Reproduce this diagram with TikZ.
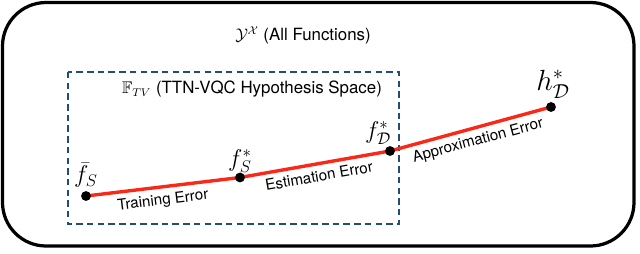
\documentclass[tikz,border=0pt]{standalone}
\usepackage{amssymb}
\usepackage{fontspec}
\setmainfont{TeX Gyre Heros}
\definecolor{boxblue}{RGB}{31,78,121}
\definecolor{linered}{RGB}{250,40,25}
\begin{document}
\begin{tikzpicture}[x=0.025cm,y=-0.025cm,
  outerbox/.style={draw=black,line width=2.3pt,rounded corners=31pt},
  hypobox/.style={draw=boxblue,line width=2.1pt,dash pattern=on 4.6pt off 3pt},
  errline/.style={draw=linered,line width=2.4pt},
  pt/.style={circle,fill=black,inner sep=0pt,minimum size=7pt},
  title/.style={font=\fontsize{12}{14}\selectfont,inner sep=0pt},
  errlab/.style={font=\fontsize{10.8}{12}\selectfont,inner sep=0pt},
  flab/.style={font=\fontsize{17}{19}\selectfont,inner sep=0pt},
  hlab/.style={font=\fontsize{21}{23}\selectfont,inner sep=0pt}]
\useasboundingbox (0,0) rectangle (640,253);
\draw[outerbox] (2.5,2.5) rectangle (634,246);
\draw[hypobox] (68,72) rectangle (399,224);
\node[title] (ttop) at (303,35) {$\mathcal{Y}^{\mathcal{X}}$ (All Functions)};
\node[title] (thyp) at (252,89) {$\mathbb{F}_{TV}$ (TTN-VQC Hypothesis Space)};
\coordinate (pa) at (86,196);
\coordinate (pb) at (240,177.5);
\coordinate (pc) at (390,151);
\coordinate (pd) at (551,107);
\draw[errline] (pa) -- (pb) -- (pc) -- (pd);
\node[pt] (a) at (pa) {};
\node[pt] (b) at (pb) {};
\node[pt] (c) at (pc) {};
\node[pt] (d) at (pd) {};
\node[flab] (la) at (86,175) {$\bar{f}_S$};
\node[flab] (lb) at (240,161) {$f_S^*$};
\node[flab] (lc) at (378,133) {$f_{\mathcal{D}}^*$};
\node[hlab] (ld) at (553,84) {$h_{\mathcal{D}}^*$};
\node[errlab,rotate=7] (e1) at (163,201) {Training Error};
\node[errlab,rotate=10] (e2) at (319,176) {Estimation Error};
\node[errlab,rotate=15] (e3) at (478,141) {Approximation Error};
\end{tikzpicture}
\end{document}
